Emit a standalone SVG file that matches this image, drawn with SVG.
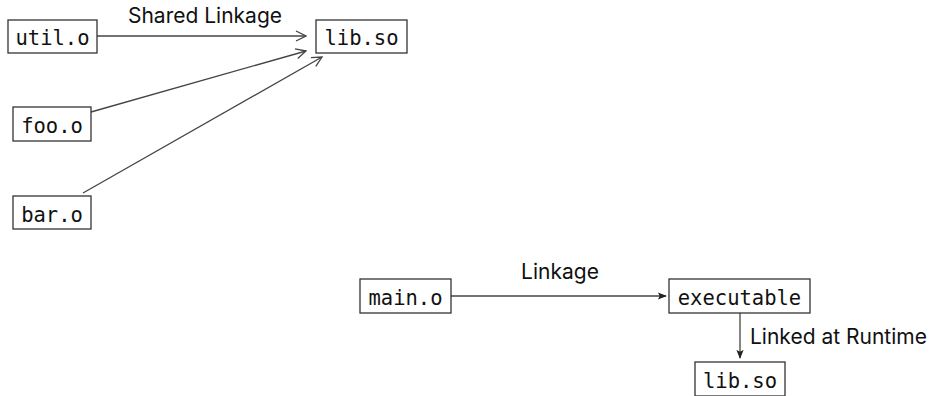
<svg xmlns="http://www.w3.org/2000/svg" width="935" height="396" viewBox="0 0 935 396">
<style>
.box{fill:#fff;stroke:#333;stroke-width:1.3}
.lbl{font-family:"DejaVu Sans Mono","Liberation Mono",monospace;font-size:20.5px;fill:#111}
.edge{fill:none;stroke:#444;stroke-width:1.3}
.et{font-family:Inter,"Liberation Sans",sans-serif;font-size:21px;fill:#111}
</style>
<defs>
<marker id="open" viewBox="0 0 12 12" refX="11" refY="6" markerWidth="12" markerHeight="12" markerUnits="userSpaceOnUse" orient="auto">
<path d="M1,1 L11,6 L1,11" fill="none" stroke="#444" stroke-width="1.3"/>
</marker>
<marker id="fill" viewBox="0 0 10 10" refX="9" refY="5" markerWidth="9" markerHeight="9" markerUnits="userSpaceOnUse" orient="auto">
<path d="M0,1 L10,5 L0,9 L2,5 Z" fill="#222"/>
</marker>
</defs>
<g id="connectors">
<line class="edge" x1="97" y1="36" x2="306" y2="36" marker-end="url(#open)"/>
<text class="et" x="205" y="23" text-anchor="middle">Shared Linkage</text>
<line class="edge" x1="91" y1="112" x2="306" y2="51" marker-end="url(#open)"/>
<line class="edge" x1="83" y1="193" x2="322" y2="57" marker-end="url(#open)"/>
<line class="edge" x1="451" y1="296" x2="666" y2="296" marker-end="url(#fill)"/>
<text class="et" x="560" y="279" text-anchor="middle">Linkage</text>
<line class="edge" x1="740" y1="313" x2="740" y2="358" marker-end="url(#fill)"/>
<text class="et" x="750" y="344">Linked at Runtime</text>
</g>
<g id="util_o"><rect class="box" x="8" y="20" width="89" height="33"/><text class="lbl" x="52.5" y="44.5" text-anchor="middle">util.o</text></g>
<g id="lib_so"><rect class="box" x="316" y="20" width="91" height="33"/><text class="lbl" x="361.5" y="44.5" text-anchor="middle">lib.so</text></g>
<g id="foo_o"><rect class="box" x="13" y="107" width="78" height="34"/><text class="lbl" x="52" y="132.5" text-anchor="middle">foo.o</text></g>
<g id="bar_o"><rect class="box" x="13" y="196" width="78" height="33"/><text class="lbl" x="52" y="221.5" text-anchor="middle">bar.o</text></g>
<g id="main_o"><rect class="box" x="360" y="279" width="91" height="34"/><text class="lbl" x="405.5" y="304.5" text-anchor="middle">main.o</text></g>
<g id="executable"><rect class="box" x="669" y="279" width="141" height="34"/><text class="lbl" x="739.5" y="304.5" text-anchor="middle">executable</text></g>
<g id="lib_so_2"><rect class="box" x="695" y="362" width="90" height="34"/><text class="lbl" x="740" y="387.5" text-anchor="middle">lib.so</text></g>
</svg>
